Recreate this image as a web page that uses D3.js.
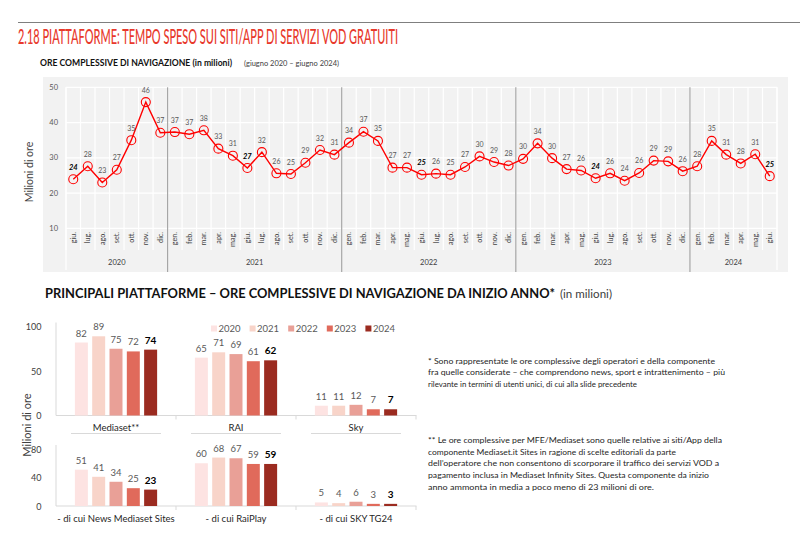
<!DOCTYPE html>
<html><head><meta charset="utf-8">
<script src="https://cdn.jsdelivr.net/npm/d3@7"></script>
<style>body{margin:0;background:#fff}svg{display:block}text{font-family:"Lato","Liberation Sans",sans-serif}</style>
</head><body><svg id="c" width="800" height="540"></svg>
<script>
// ---------- DATA ----------
const monthLabels = ["giu.","lug.","ago.","set.","ott.","nov.","dic.",
 "gen.","feb.","mar.","apr.","mag.","giu.","lug.","ago.","set.","ott.","nov.","dic.",
 "gen.","feb.","mar.","apr.","mag.","giu.","lug.","ago.","set.","ott.","nov.","dic.",
 "gen.","feb.","mar.","apr.","mag.","giu.","lug.","ago.","set.","ott.","nov.","dic.",
 "gen.","feb.","mar.","apr.","mag.","giu."];
const yearLabels = ["2020","2021","2022","2023","2024"];
const monthsPerYear = [7,12,12,12,6];
const hours = [23.9,27.6,23.0,26.6,35.0,45.8,37.1,
 37.3,36.7,37.8,32.6,30.6,27.1,31.6,25.6,25.4,28.6,32.2,30.9,
 34.3,37.4,34.8,27.2,27.2,25.2,25.5,25.2,27.4,30.4,28.8,27.8,
 29.7,34.1,29.9,26.8,26.4,24.2,25.6,23.5,25.7,29.2,29.0,26.2,
 27.6,34.8,30.9,28.4,31.0,24.8];
const lineTicks = [10,20,30,40,50];

const barYears = ["2020","2021","2022","2023","2024"];
const platforms = ["Mediaset**","RAI","Sky"];
const platformValues = [[82,89,75,72,74],[65,71,69,61,62],[11,11,12,7,7]];
const subPlatforms = ["- di cui News Mediaset Sites","-  di cui RaiPlay","- di cui SKY TG24"];
const subValues = [[51,41,34,25,23],[60,68,67,59,59],[5,4,6,3,3]];
const row1Ticks = [0,50,100];
const row2Ticks = [0,40,80];
const barColors = ["#fde3e2","#f8d4c9","#e9a097","#e06a5b","#9b2b20"];

const note1 = ["* Sono rappresentate le ore complessive degli operatori e della componente",
 "fra quelle considerate \u2013 che comprendono news, sport e intrattenimento \u2013 più",
 "rilevante in termini di utenti unici, di cui alla slide precedente"];
const note2 = ["** Le ore complessive per MFE/Mediaset sono quelle relative ai siti/App della",
 "componente Mediaset.it Sites in ragione di scelte editoriali da parte",
 "dell\u2019operatore che non consentono di scorporare il traffico dei servizi VOD a",
 "pagamento inclusa in Mediaset Infinity Sites. Questa componente da inizio",
 "anno ammonta in media a poco meno di 23 milioni di ore."];

// ---------- DRAW ----------
const svg = d3.select("#c");

// header
svg.append("line").attr("x1",18).attr("x2",800).attr("y1",22.5).attr("y2",22.5).attr("stroke","#7f7f7f").attr("stroke-width",1.2);
svg.append("text").attr("x",18).attr("y",44).attr("fill","#e8392c").attr("font-size",20.5).attr("font-weight",500)
  .attr("font-family","'Liberation Sans Narrow','DejaVu Sans Condensed','Liberation Sans',sans-serif")
  .attr("textLength",380).attr("lengthAdjust","spacingAndGlyphs")
  .text("2.18 PIATTAFORME: TEMPO SPESO SUI SITI/APP DI SERVIZI VOD GRATUITI");
svg.append("text").attr("x",40).attr("y",66).attr("font-size",9.3).attr("font-weight","bold").attr("fill","#111")
  .attr("textLength",192).attr("lengthAdjust","spacingAndGlyphs")
  .text("ORE COMPLESSIVE DI NAVIGAZIONE (in milioni)");
svg.append("text").attr("x",244).attr("y",65.5).attr("font-size",8.3).attr("fill","#404040")
  .attr("textLength",95).attr("lengthAdjust","spacingAndGlyphs")
  .text("(giugno 2020 \u2013 giugno 2024)");

// line chart
const L = {left:66, right:777, top:87.3, bottom:228.3};
svg.append("rect").attr("x",43).attr("y",77).attr("width",745).attr("height",195).attr("fill","#f2f2f2");
const x = d3.scaleBand().domain(d3.range(hours.length)).range([L.left, L.right]);
const y = d3.scaleLinear().domain([10,50]).range([L.bottom, L.top]);

const g = svg.append("g");
g.selectAll(".hg").data(lineTicks).join("line")
  .attr("x1",L.left).attr("x2",L.right).attr("y1",d=>y(d)).attr("y2",d=>y(d))
  .attr("stroke","#fff").attr("stroke-width",1.2);
const bounds = d3.range(hours.length+1).map(i=> i<hours.length ? x(i) : x(i-1)+x.bandwidth());
g.selectAll(".vg").data(bounds).join("line")
  .attr("x1",d=>d).attr("x2",d=>d).attr("y1",L.top).attr("y2",250)
  .attr("stroke","#fff").attr("stroke-width",1.2);
g.append("line").attr("x1",L.left).attr("x2",L.left).attr("y1",L.top).attr("y2",270).attr("stroke","#fff").attr("stroke-width",1.2);
g.append("line").attr("x1",L.right).attr("x2",L.right).attr("y1",L.top).attr("y2",270).attr("stroke","#fff").attr("stroke-width",1.2);
let cum = 0;
const yearStarts = monthsPerYear.map(n=>{const s=cum; cum+=n; return s;});
yearStarts.forEach((s,i)=>{
  if(i>0){
    g.append("line").attr("x1",x(s)).attr("x2",x(s)).attr("y1",L.top).attr("y2",272)
     .attr("stroke","#a6a6a6").attr("stroke-width",1.2);
  }
  const x0 = x(s), x1 = x(s+monthsPerYear[i]-1)+x.bandwidth();
  g.append("text").attr("x",(x0+x1)/2).attr("y",264.5).attr("text-anchor","middle")
   .attr("font-size",7.5).attr("fill","#404040").text(yearLabels[i]);
});
g.selectAll(".yt").data(lineTicks).join("text")
  .attr("x",58).attr("y",d=>y(d)+2.5).attr("text-anchor","end").attr("font-size",7.5).attr("fill","#595959").text(d=>d);
svg.append("text").attr("transform","translate(33,172) rotate(-90)").attr("text-anchor","middle")
  .attr("font-size",10.5).attr("fill","#404040").text("Milioni di ore");
g.selectAll(".ml").data(monthLabels).join("text")
  .attr("transform",(d,i)=>`translate(${x(i)+x.bandwidth()/2+2.5},232) rotate(-90)`)
  .attr("text-anchor","end").attr("font-size",7.2).attr("fill","#404040").text(d=>d);
const line = d3.line().x((d,i)=>x(i)+x.bandwidth()/2).y(d=>y(d));
g.append("path").datum(hours).attr("d",line).attr("fill","none").attr("stroke","#ff0000").attr("stroke-width",1.4);
g.selectAll(".pt").data(hours).join("circle")
  .attr("cx",(d,i)=>x(i)+x.bandwidth()/2).attr("cy",d=>y(d)).attr("r",4.5)
  .attr("fill","none").attr("stroke","#ff0000").attr("stroke-width",1.1);
g.selectAll(".vl").data(hours).join("text")
  .attr("x",(d,i)=>x(i)+x.bandwidth()/2).attr("y",d=>y(d)-9.5).attr("text-anchor","middle")
  .attr("font-size",(d,i)=>monthLabels[i]==="giu."?7.5:7)
  .attr("font-weight",(d,i)=>monthLabels[i]==="giu."?"bold":"normal")
  .attr("font-style",(d,i)=>monthLabels[i]==="giu."?"italic":"normal")
  .attr("fill",(d,i)=>monthLabels[i]==="giu."?"#000":"#595959")
  .text(d=>Math.round(d));

// bar section title
svg.append("text").attr("x",45).attr("y",297.5).attr("fill","#111").attr("font-size",12.5).attr("font-weight","bold")
  .attr("textLength",510).attr("lengthAdjust","spacingAndGlyphs")
  .text("PRINCIPALI PIATTAFORME \u2013 ORE COMPLESSIVE DI NAVIGAZIONE DA INIZIO ANNO*");
svg.append("text").attr("x",560).attr("y",297.5).attr("fill","#404040").attr("font-size",10.5)
  .attr("textLength",52).attr("lengthAdjust","spacingAndGlyphs").text("(in milioni)");

// bar charts
const px = d3.scaleBand().domain(d3.range(3)).range([56,416]);
const bx = d3.scaleBand().domain(barYears).range([0,px.bandwidth()]).paddingInner(0.25).paddingOuter(1.09);
function drawRow(names, vals, ticks, yr, labelY, underline){
  const yy = d3.scaleLinear().domain([0,ticks[ticks.length-1]]).range(yr);
  const rg = svg.append("g");
  rg.append("line").attr("x1",56).attr("x2",56).attr("y1",yr[1]-4).attr("y2",yr[0]).attr("stroke","#d9d9d9");
  rg.append("line").attr("x1",56).attr("x2",416.5).attr("y1",yr[0]).attr("y2",yr[0]).attr("stroke","#d9d9d9");
  [1,2,3].forEach(i=>rg.append("line").attr("x1",56+120*i).attr("x2",56+120*i).attr("y1",yr[0]).attr("y2",yr[0]+4).attr("stroke","#d9d9d9"));
  rg.selectAll(".t").data(ticks).join("text").attr("x",41.5).attr("y",d=>yy(d)+3.5).attr("text-anchor","end")
    .attr("font-size",9).attr("fill","#404040").text(d=>d);
  names.forEach((n,p)=>{
    const pg = rg.append("g").attr("transform",`translate(${px(p)},0)`);
    pg.selectAll("rect").data(vals[p]).join("rect")
      .attr("x",(d,i)=>bx(barYears[i])).attr("width",bx.bandwidth())
      .attr("y",d=>yy(d)).attr("height",d=>yr[0]-yy(d)).attr("fill",(d,i)=>barColors[i]);
    pg.selectAll("text.v").data(vals[p]).join("text").attr("class","v")
      .attr("x",(d,i)=>bx(barYears[i])+bx.bandwidth()/2).attr("y",d=>yy(d)-6).attr("text-anchor","middle")
      .attr("font-size",(d,i)=>i===4?10:9.5).attr("font-weight",(d,i)=>i===4?"bold":"normal")
      .attr("fill",(d,i)=>i===4?"#000":"#595959").text(d=>d);
    pg.append("text").attr("x",px.bandwidth()/2).attr("y",labelY).attr("text-anchor","middle")
      .attr("font-size",9.5).attr("fill","#262626").text(n);
    if(underline){
      pg.append("line").attr("x1",px.bandwidth()/2-45).attr("x2",px.bandwidth()/2+45)
        .attr("y1",433.5).attr("y2",433.5).attr("stroke","#d9d9d9");
    }
  });
}
drawRow(platforms, platformValues, row1Ticks, [415.5,326.5], 430.5, true);
drawRow(subPlatforms, subValues, row2Ticks, [506,449], 522, false);
svg.append("text").attr("transform","translate(31,425) rotate(-90)").attr("text-anchor","middle")
  .attr("font-size",11).attr("fill","#404040").text("Milioni di ore");

// legend
const lg = svg.append("g");
barYears.forEach((yv,i)=>{
  const lx = 211 + i*38.6;
  lg.append("rect").attr("x",lx).attr("y",325.5).attr("width",6).attr("height",6).attr("fill",barColors[i]);
  lg.append("text").attr("x",lx+7.5).attr("y",332).attr("font-size",9.5).attr("fill","#595959").text(yv);
});

// notes
const nw1 = [287,297,209], nw2 = [294,248,291,281,226];
note1.forEach((t,i)=>svg.append("text").attr("x",428).attr("y",363.5+i*11.6).attr("font-size",8.3).attr("fill","#262626")
  .attr("textLength",nw1[i]).attr("lengthAdjust","spacingAndGlyphs").text(t));
note2.forEach((t,i)=>svg.append("text").attr("x",428).attr("y",443+i*11.7).attr("font-size",8.3).attr("fill","#262626")
  .attr("textLength",nw2[i]).attr("lengthAdjust","spacingAndGlyphs").text(t));
</script></body></html>
